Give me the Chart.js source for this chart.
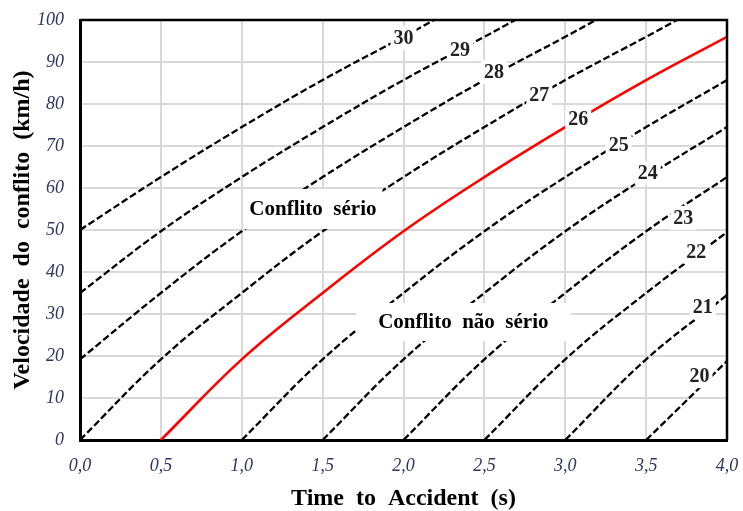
<!DOCTYPE html>
<html>
<head>
<meta charset="utf-8">
<script src="https://cdn.jsdelivr.net/npm/chart.js@4/dist/chart.umd.min.js"></script>
<style>
  html, body { margin: 0; padding: 0; background: #fff; }
  #wrap { width: 743px; height: 511px; }
</style>
</head>
<body>
<div id="wrap"><canvas id="myChart" width="743" height="511"></canvas></div>
<script>
// curves: [time to accident (s), speed (km/h)]
const tta30 = [[0, 50], [0.5, 62.6], [1.0, 74.5], [1.5, 85.7], [2.0, 96], [2.19, 100]];
const tta29 = [[0, 35], [0.5, 49.7], [1.0, 62.6], [1.5, 74.5], [2.0, 85.7], [2.5, 96], [2.69, 100]];
const tta28 = [[0, 19.2], [0.5, 35], [1.0, 49.7], [1.5, 62.6], [2.0, 74.5], [2.5, 85.7], [3.0, 96], [3.19, 100]];
const tta27 = [[0, 0], [0.5, 19.2], [1.0, 35], [1.5, 49.7], [2.0, 62.6], [2.5, 74.5], [3.0, 85.7], [3.5, 96], [3.69, 100]];
const tta26 = [[0.5, 0], [1.0, 19.2], [1.5, 35], [2.0, 49.7], [2.5, 62.6], [3.0, 74.5], [3.5, 85.7], [4.0, 96]];
const tta25 = [[1.0, 0], [1.5, 19.2], [2.0, 35], [2.5, 49.7], [3.0, 62.6], [3.5, 74.5], [4.0, 85.7]];
const tta24 = [[1.5, 0], [2.0, 19.2], [2.5, 35], [3.0, 49.7], [3.5, 62.6], [4.0, 74.5]];
const tta23 = [[2.0, 0], [2.5, 19.2], [3.0, 35], [3.5, 49.7], [4.0, 62.6]];
const tta22 = [[2.5, 0], [3.0, 19.2], [3.5, 35], [4.0, 49.5]];
const tta21 = [[3.0, 0], [3.5, 19.2], [4.0, 34.5]];
const tta20 = [[3.5, 0], [4.0, 18.8]];

const xTickLabels = ['0,0', '0,5', '1,0', '1,5', '2,0', '2,5', '3,0', '3,5', '4,0'];
const yTickLabels = ['0', '10', '20', '30', '40', '50', '60', '70', '80', '90', '100'];

// number labels sitting on each curve (data coords)
const curveLabels = [
  { text: '30', x: 2.00, y: 95.7 },
  { text: '29', x: 2.35, y: 93.0 },
  { text: '28', x: 2.56, y: 87.6 },
  { text: '27', x: 2.84, y: 82.1 },
  { text: '26', x: 3.08, y: 76.5 },
  { text: '25', x: 3.33, y: 70.3 },
  { text: '24', x: 3.51, y: 63.6 },
  { text: '23', x: 3.73, y: 52.9 },
  { text: '22', x: 3.81, y: 44.8 },
  { text: '21', x: 3.85, y: 31.6 },
  { text: '20', x: 3.83, y: 15.2 }
];
const regionLabels = [
  { text: 'Conflito  sério', x: 1.44, y: 55.0, padX: 6, padY: 20 },
  { text: 'Conflito  não  sério', x: 2.37, y: 28.1, padX: 22, padY: 19 }
];

const serif = "'Liberation Serif', 'Times New Roman', serif";

function pts(arr) {
  return arr.map(p => ({ x: p[0], y: p[1] }));
}

function dashed(arr) {
  return {
    data: pts(arr),
    borderColor: '#000',
    borderWidth: 2.3,
    borderDash: [7, 3],
    pointRadius: 0,
    tension: 0.4,
    fill: false
  };
}

const labelsPlugin = {
  id: 'labels',
  afterDatasetsDraw(chart) {
    const ctx = chart.ctx;
    const xs = chart.scales.x, ys = chart.scales.y;
    ctx.save();
    ctx.textAlign = 'center';
    ctx.textBaseline = 'middle';
    ctx.font = 'bold 20px ' + serif;
    curveLabels.forEach(l => {
      const px = xs.getPixelForValue(l.x), py = ys.getPixelForValue(l.y);
      const w = ctx.measureText(l.text).width + 6;
      ctx.fillStyle = '#fff';
      ctx.fillRect(px - w / 2, py - 12, w, 24);
      ctx.fillStyle = '#222';
      ctx.fillText(l.text, px, py + 1);
    });
    ctx.font = 'bold 21px ' + serif;
    regionLabels.forEach(l => {
      const px = xs.getPixelForValue(l.x), py = ys.getPixelForValue(l.y);
      const w = ctx.measureText(l.text).width + 2 * l.padX;
      ctx.fillStyle = '#fff';
      ctx.fillRect(px - w / 2, py - l.padY, w, 2 * l.padY);
      ctx.fillStyle = '#000';
      ctx.fillText(l.text, px, py + 1);
    });
    // top and right frame
    const a = chart.chartArea;
    ctx.strokeStyle = '#000';
    ctx.lineWidth = 2.5;
    ctx.beginPath();
    ctx.moveTo(a.left, a.top);
    ctx.lineTo(a.right, a.top);
    ctx.lineTo(a.right, a.bottom);
    ctx.stroke();
    ctx.restore();
  }
};

const ctx = document.getElementById('myChart').getContext('2d');
new Chart(ctx, {
  type: 'line',
  data: {
    datasets: [
      dashed(tta30), dashed(tta29), dashed(tta28), dashed(tta27),
      {
        data: pts(tta26),
        borderColor: '#ff0000',
        borderWidth: 2.6,
        pointRadius: 0,
        tension: 0.4,
        fill: false
      },
      dashed(tta25), dashed(tta24), dashed(tta23), dashed(tta22), dashed(tta21), dashed(tta20)
    ]
  },
  options: {
    responsive: false,
    animation: false,
    layout: { padding: { left: 0, top: 20, right: 16, bottom: 0 } },
    plugins: {
      legend: { display: false },
      tooltip: { enabled: false }
    },
    scales: {
      x: {
        type: 'linear',
        min: 0,
        max: 4,
        afterFit: s => { s.height = 71; s.paddingLeft = 0; s.paddingRight = 0; },
        ticks: {
          stepSize: 0.5,
          padding: 15,
          color: '#2e3560',
          font: { family: serif, size: 18, style: 'italic' },
          callback: (v, i) => xTickLabels[i]
        },
        grid: { color: '#d9d9d9', lineWidth: 2, drawTicks: false },
        border: { color: '#000', width: 3 },
        title: {
          display: true,
          text: 'Time  to  Accident  (s)',
          color: '#000',
          font: { family: serif, size: 24, weight: 'bold', lineHeight: 1.05 },
          padding: { top: 0, bottom: 0 }
        }
      },
      y: {
        min: 0,
        max: 100,
        afterFit: s => { s.width = 80; s.paddingTop = 0; s.paddingBottom = 0; },
        ticks: {
          stepSize: 10,
          padding: 16,
          color: '#2e3560',
          font: { family: serif, size: 18, style: 'italic' },
          callback: (v, i) => yTickLabels[i]
        },
        grid: { color: '#d9d9d9', lineWidth: 2, drawTicks: false },
        border: { color: '#000', width: 3 },
        title: {
          display: true,
          text: 'Velocidade  do  conflito  (km/h)',
          color: '#000',
          font: { family: serif, size: 24, weight: 'bold' },
          padding: { top: 8, bottom: 0 }
        }
      }
    }
  },
  plugins: [labelsPlugin]
});
</script>
</body>
</html>
